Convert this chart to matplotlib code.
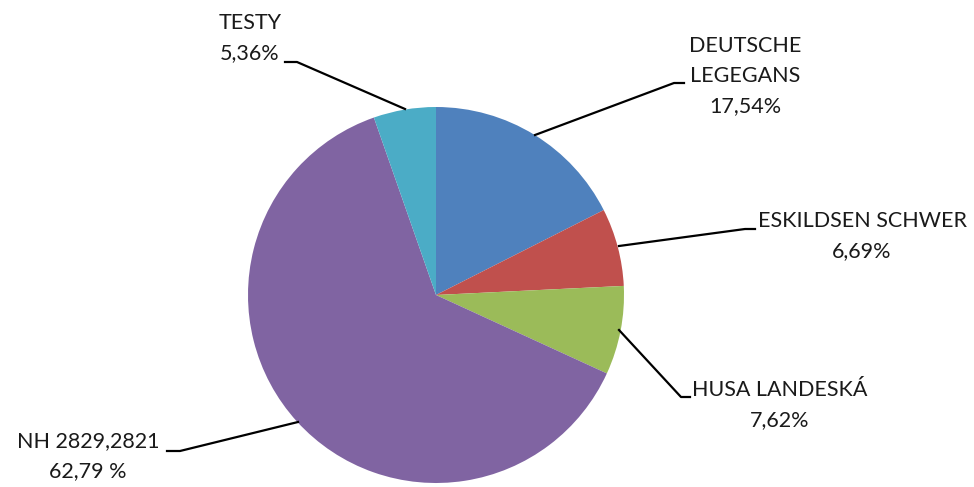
import matplotlib
matplotlib.use("Agg")
import matplotlib.pyplot as plt

names = ["DEUTSCHE\nLEGEGANS", "ESKILDSEN SCHWER", "HUSA LANDESKÁ", "NH 2829,2821", "TESTY"]
shares = [17.54, 6.69, 7.62, 62.79, 5.36]
share_text = ["17,54%", "6,69%", "7,62%", "62,79 %", "5,36%"]
colors = ["#4F81BD", "#C0504D", "#9BBB59", "#8064A2", "#4BACC6"]

# label centre and leader line (pixel coords, y from top)
label_pos = [(745, 76), (862, 236), (780, 405), (88, 456), (250, 38)]
leaders = [
    [(535, 135), (674, 83), (684, 83)],
    [(619, 246), (745, 229), (755, 229)],
    [(619, 330), (681, 397), (690, 397)],
    [(298, 422), (180, 451), (167, 451)],
    [(405, 109), (297, 62), (285, 62)],
]

W, H = 974, 487
fig = plt.figure(figsize=(9.74, 4.87), dpi=100)
ax = fig.add_axes([0, 0, 1, 1])

ax.pie(shares, colors=colors, startangle=90, counterclock=False,
       center=(436, H - 295), radius=188, wedgeprops=dict(linewidth=0))

ax.set_xlim(0, W)
ax.set_ylim(0, H)
ax.set_aspect("equal")
ax.axis("off")

for name, txt, (x, y), pts in zip(names, share_text, label_pos, leaders):
    ax.text(x, H - y, name + "\n" + txt, ha="center", va="center",
            fontsize=15.5, family="Lato", color="#1a1a1a", linespacing=1.62)
    ax.plot([p[0] for p in pts], [H - p[1] for p in pts], color="black", lw=1.6)

fig.savefig("out.png", dpi=100)
